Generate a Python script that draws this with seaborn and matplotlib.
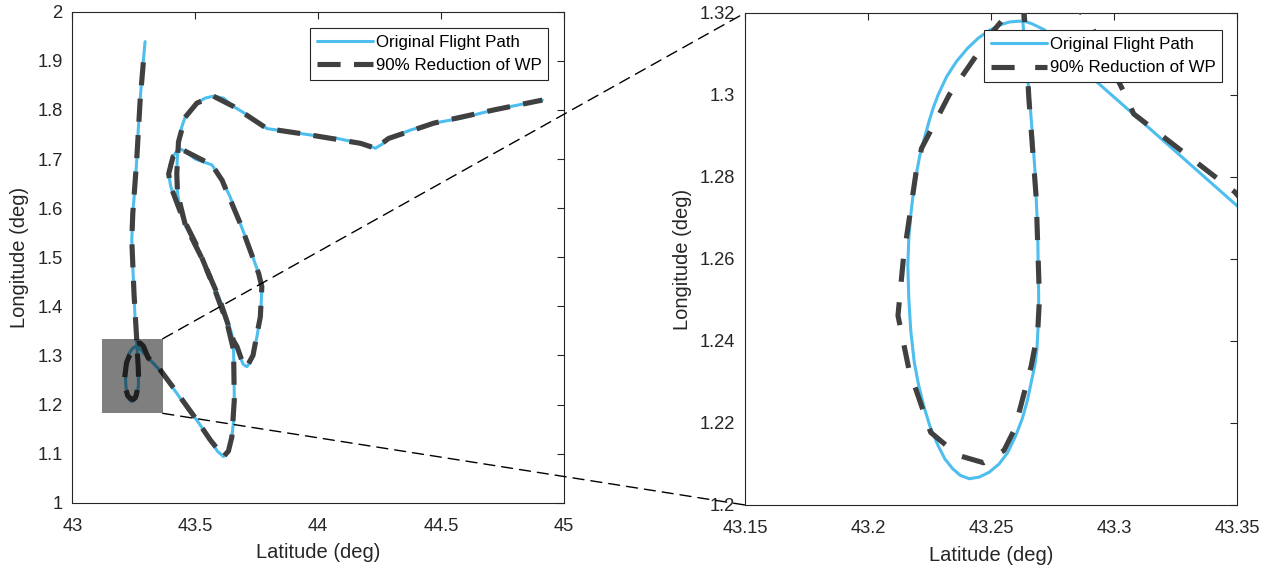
import matplotlib
matplotlib.use("Agg")
import matplotlib.pyplot as plt
import seaborn as sns
from matplotlib.patches import Rectangle, ConnectionPatch

# ---------------- data ----------------
orig_lat = [43.296, 43.289, 43.283, 43.276, 43.269, 43.262, 43.255, 43.246, 43.242, 43.246,
            43.251, 43.255, 43.260, 43.2627,
            # small loop (right side going down)
            43.2640, 43.2657, 43.2669, 43.2679, 43.2690, 43.2694, 43.2692, 43.2687, 43.2678,
            43.2664, 43.2648, 43.2627, 43.2600, 43.2568, 43.2533, 43.2493, 43.2452, 43.2412,
            43.2376, 43.2345, 43.2313, 43.2285, 43.2253, 43.2226, 43.2205, 43.2188, 43.2174,
            43.2166, 43.2162, 43.2166, 43.2174, 43.2184, 43.2196, 43.2210, 43.2218, 43.2232,
            43.2248, 43.2265, 43.2285, 43.2320, 43.2360, 43.2405, 43.2449, 43.2495, 43.2538,
            43.2575, 43.2612, 43.2640, 43.2665, 43.2690, 43.2717,
            # leaving loop to the south-east
            43.280, 43.293, 43.317, 43.350, 43.371, 43.425, 43.470, 43.507,
            43.561, 43.590, 43.615, 43.635, 43.649, 43.657, 43.659, 43.658, 43.656,
            43.648, 43.630, 43.605, 43.575, 43.545, 43.510, 43.475, 43.445, 43.420, 43.400,
            43.392, 43.398, 43.410, 43.425, 43.440, 43.459,
            43.500, 43.568, 43.609, 43.642, 43.683, 43.724, 43.758, 43.771, 43.768, 43.765,
            43.751, 43.735, 43.724, 43.710, 43.695, 43.682, 43.670, 43.656,
            43.645, 43.625, 43.595, 43.560, 43.525, 43.490, 43.460, 43.440, 43.428, 43.425,
            43.427, 43.432, 43.445, 43.459, 43.480, 43.507, 43.540, 43.574, 43.615, 43.656,
            43.724, 43.792, 43.873, 43.968, 44.077, 44.172, 44.210, 44.233, 44.260, 44.287,
            44.376, 44.470, 44.580, 44.715, 44.912]
orig_lon = [1.939, 1.902, 1.868, 1.820, 1.766, 1.698, 1.644, 1.589, 1.535, 1.481,
            1.426, 1.379, 1.345, 1.320,
            1.3100, 1.2992, 1.2900, 1.2813, 1.2666, 1.2503, 1.2440, 1.2381, 1.2340,
            1.2300, 1.2255, 1.2210, 1.2168, 1.2128, 1.2100, 1.2080, 1.2068, 1.2064,
            1.2072, 1.2088, 1.2112, 1.2145, 1.2190, 1.2243, 1.2295, 1.2349, 1.2425,
            1.2503, 1.2585, 1.2650, 1.2707, 1.2760, 1.2805, 1.2850, 1.2870, 1.2900,
            1.2935, 1.2968, 1.3000, 1.3045, 1.3082, 1.3114, 1.3139, 1.3158, 1.3171,
            1.3178, 1.3180, 1.3179, 1.3174, 1.3167, 1.3159,
            1.3110, 1.3032, 1.2905, 1.2730, 1.2600, 1.2230, 1.1900, 1.1680,
            1.128, 1.105, 1.094, 1.105, 1.134, 1.170, 1.209, 1.260, 1.311,
            1.335, 1.365, 1.400, 1.440, 1.480, 1.520, 1.555, 1.585, 1.615, 1.645,
            1.670, 1.690, 1.705, 1.716, 1.720, 1.716,
            1.700, 1.688, 1.657, 1.623, 1.569, 1.515, 1.467, 1.440, 1.400, 1.379,
            1.338, 1.300, 1.286, 1.277, 1.282, 1.298, 1.318, 1.330,
            1.350, 1.380, 1.420, 1.460, 1.500, 1.535, 1.565, 1.595, 1.630, 1.670,
            1.700, 1.735, 1.765, 1.785, 1.800, 1.814, 1.824, 1.828, 1.824, 1.807,
            1.786, 1.762, 1.756, 1.749, 1.742, 1.732, 1.726, 1.722, 1.730, 1.742,
            1.759, 1.773, 1.783, 1.800, 1.820]

red_lat = [43.289, 43.276, 43.262, 43.246, 43.242, 43.251, 43.2635,
           43.2654, 43.2684, 43.2697, 43.2690, 43.2664, 43.2597, 43.2553, 43.2470, 43.2367,
           43.2255, 43.2166, 43.2122, 43.2144, 43.2196, 43.2218, 43.2330, 43.2508, 43.2620,
           43.2750, 43.2890, 43.3050, 43.3080, 43.3490,
           43.425, 43.507, 43.561, 43.615, 43.635, 43.649, 43.659, 43.656,
           43.630, 43.575, 43.510, 43.445, 43.400, 43.392, 43.410, 43.440, 43.459,
           43.568, 43.609, 43.683, 43.758, 43.771, 43.765, 43.735, 43.710, 43.695, 43.670, 43.656,
           43.595, 43.525, 43.460, 43.428, 43.425, 43.432, 43.459, 43.507, 43.574, 43.656,
           43.792, 43.968, 44.172, 44.233, 44.287, 44.470, 44.715, 44.912]
red_lon = [1.897, 1.820, 1.698, 1.589, 1.535, 1.426, 1.320,
           1.2992, 1.2748, 1.2503, 1.2422, 1.2340, 1.2186, 1.2133, 1.2103, 1.2121,
           1.2177, 1.2332, 1.2462, 1.2601, 1.2813, 1.2870, 1.3000, 1.3155, 1.3235,
           1.3255, 1.3190, 1.2995, 1.2954, 1.2764,
           1.225, 1.168, 1.128, 1.094, 1.105, 1.134, 1.209, 1.311,
           1.365, 1.440, 1.520, 1.585, 1.645, 1.670, 1.705, 1.720, 1.716,
           1.688, 1.657, 1.569, 1.467, 1.440, 1.379, 1.300, 1.277, 1.282, 1.318, 1.330,
           1.420, 1.500, 1.565, 1.630, 1.670, 1.735, 1.785, 1.814, 1.828, 1.807,
           1.762, 1.749, 1.732, 1.722, 1.742, 1.773, 1.800, 1.820]

series_labels = ["Original Flight Path", "90% Reduction of WP"]
main_xticks = [43, 43.5, 44, 44.5, 45]
main_yticks = [1, 1.1, 1.2, 1.3, 1.4, 1.5, 1.6, 1.7, 1.8, 1.9, 2]
zoom_xticks = [43.15, 43.2, 43.25, 43.3, 43.35]
zoom_yticks = [1.2, 1.22, 1.24, 1.26, 1.28, 1.3, 1.32]
zoom_box_lat = [43.12, 43.368]
zoom_box_lon = [1.182, 1.334]
x_label = "Latitude (deg)"
y_label = "Longitude (deg)"

# ---------------- style ----------------
sns.set_style("white")
plt.rcParams['font.family'] = ['Liberation Sans', 'DejaVu Sans']
AX_COL = "#262626"
BLUE = "#4DBEEE"
DARK = "#404040"

fig = plt.figure(figsize=(12.73, 5.69), dpi=100)
axL = fig.add_axes([0.0568, 0.1165, 0.3862, 0.8629])
axR = fig.add_axes([0.5852, 0.1125, 0.3865, 0.8647])


def draw(ax, dash):
    sns.lineplot(x=orig_lat, y=orig_lon, sort=False, estimator=None, ax=ax,
                 color=BLUE, lw=2.2, label=series_labels[0], zorder=2)
    sns.lineplot(x=red_lat, y=red_lon, sort=False, estimator=None, ax=ax,
                 color=DARK, lw=3.7, linestyle=(0, dash), label=series_labels[1],
                 zorder=3)


def style(ax, xt, yt, xlim, ylim, leg_anchor):
    ax.set_xlim(*xlim)
    ax.set_ylim(*ylim)
    ax.set_xticks(xt)
    ax.set_xticklabels([f"{v:g}" for v in xt])
    ax.set_yticks(yt)
    ax.set_yticklabels([f"{v:g}" for v in yt])
    ax.tick_params(direction="in", length=5, width=0.8, colors=AX_COL,
                   labelsize=13.2, top=True, right=True)
    ax.tick_params(axis="x", pad=11)
    ax.tick_params(axis="y", pad=7)
    for s in ax.spines.values():
        s.set_color(AX_COL)
        s.set_linewidth(0.8)
        s.set_visible(True)
    ax.set_xlabel(x_label, fontsize=14.5, color=AX_COL, labelpad=6)
    ax.set_ylabel(y_label, fontsize=14.5, color=AX_COL, labelpad=6)
    leg = ax.legend(loc="upper right", bbox_to_anchor=leg_anchor, borderaxespad=0,
                    fontsize=12.2, frameon=True, fancybox=False, handlelength=3.3,
                    handletextpad=0.15, labelspacing=0.5, borderpad=0.4)
    leg.get_frame().set_edgecolor(AX_COL)
    leg.get_frame().set_linewidth(0.8)
    leg.get_frame().set_alpha(1)
    for t in leg.get_texts():
        t.set_color("black")


draw(axL, (4.5, 2.6))
style(axL, main_xticks, main_yticks, (43, 45), (1, 2), (0.968, 0.967))
axL.add_patch(Rectangle((zoom_box_lat[0], zoom_box_lon[0]),
                        zoom_box_lat[1] - zoom_box_lat[0],
                        zoom_box_lon[1] - zoom_box_lon[0],
                        facecolor="black", alpha=0.5, edgecolor="none", zorder=5))

draw(axR, (4.5, 4.0))
style(axR, zoom_xticks, zoom_yticks, (43.15, 43.35), (1.2, 1.32), (0.970, 0.965))

for yA, yB in [(zoom_box_lon[1], 1), (zoom_box_lon[0], 0)]:
    con = ConnectionPatch(xyA=(zoom_box_lat[1], yA), coordsA="data", axesA=axL,
                          xyB=(0, yB), coordsB="axes fraction", axesB=axR,
                          color="black", lw=1.0, linestyle=(0, (8, 5)), zorder=10)
    fig.add_artist(con)

fig.savefig("out.png", dpi=100, facecolor="white")
